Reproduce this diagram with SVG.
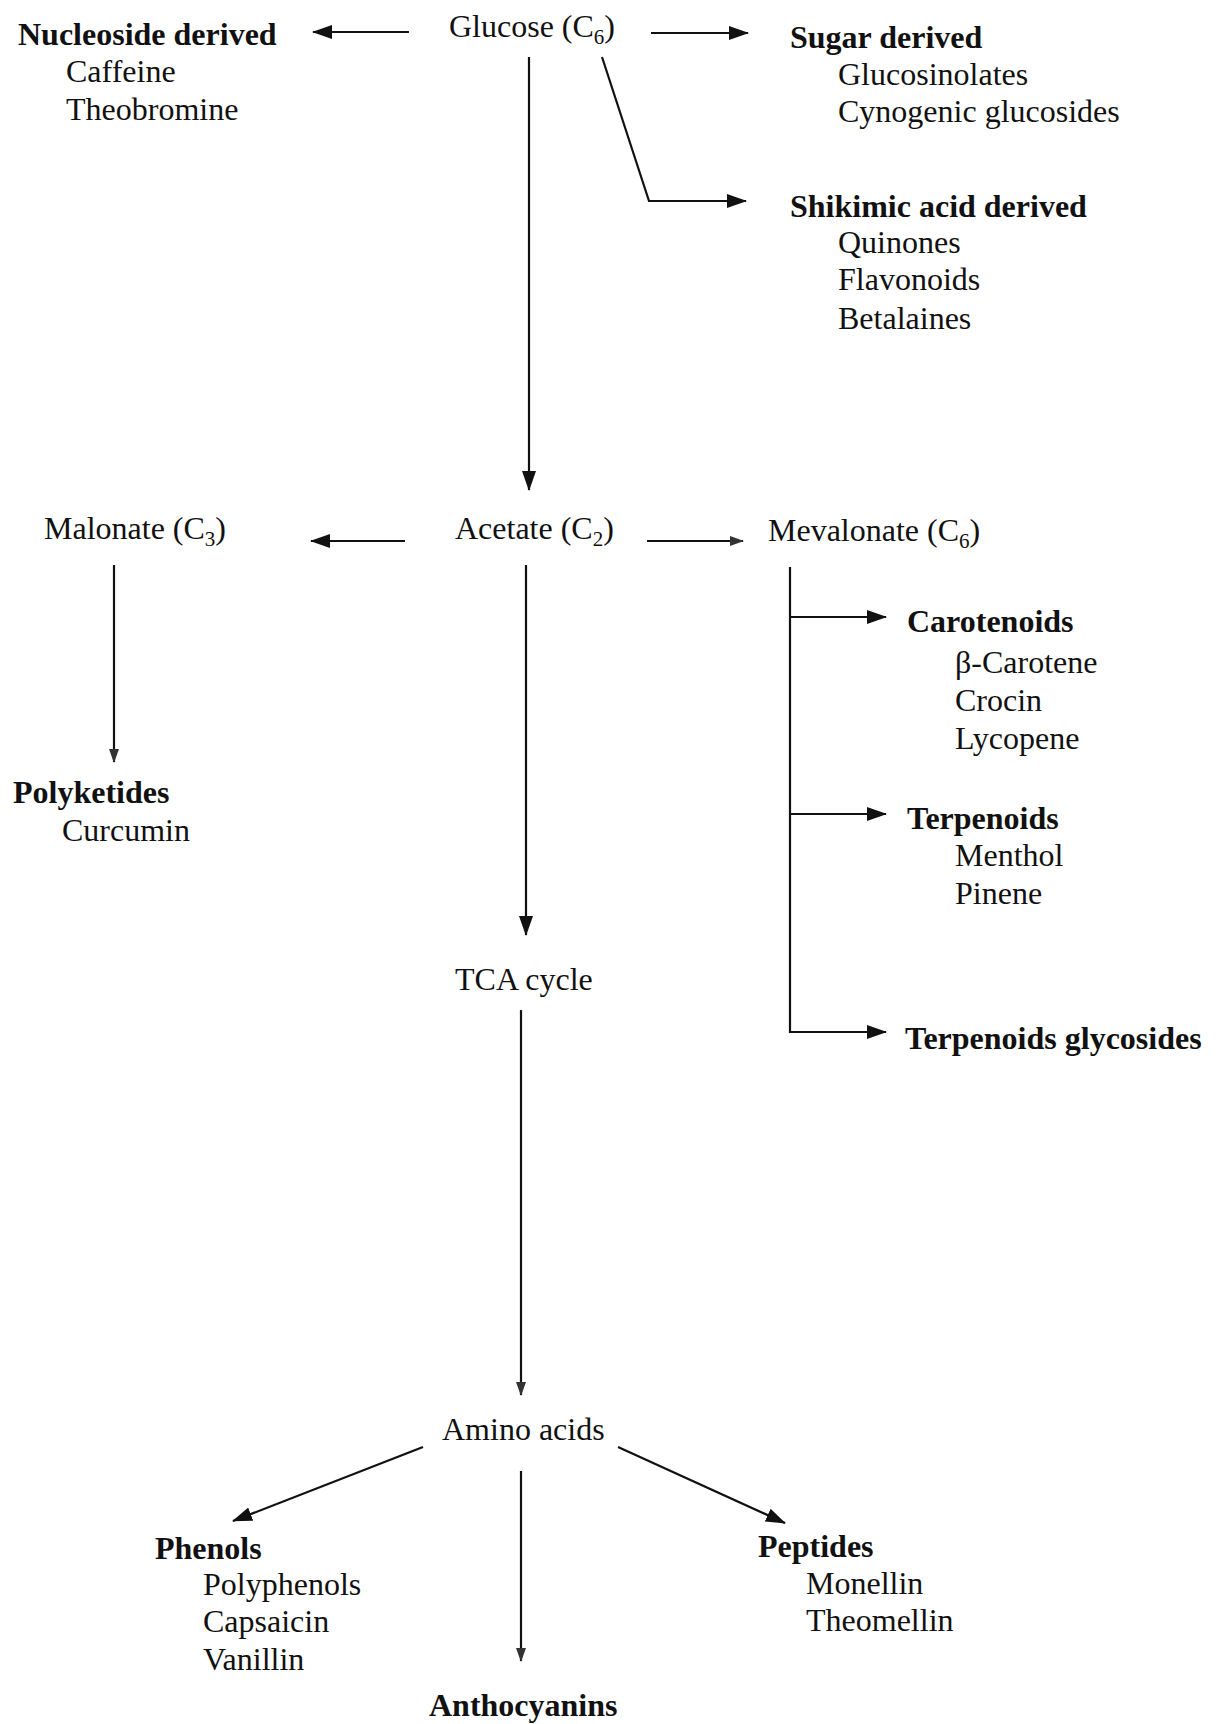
<svg xmlns="http://www.w3.org/2000/svg" width="1224" height="1724" viewBox="0 0 1224 1724">
<style>
text{font-family:"Liberation Serif","Times New Roman",serif;font-size:32px;fill:#111}
.b{font-weight:bold}
.s{font-size:21px}
.c{stroke:#111;stroke-width:2.2;fill:none}
</style>
<defs>
<marker id="ah" viewBox="0 0 20 14" refX="19" refY="7" markerWidth="20" markerHeight="14" markerUnits="userSpaceOnUse" orient="auto">
<path d="M0,0 L20,7 L0,14 Z" fill="#111"/>
</marker>
<marker id="ahs" viewBox="0 0 14 10" refX="13" refY="5" markerWidth="14" markerHeight="10" markerUnits="userSpaceOnUse" orient="auto">
<path d="M0,0 L14,5 L0,10 Z" fill="#333"/>
</marker>
</defs>
<rect width="1224" height="1724" fill="#fff"/>
<g id="connectors">
<line class="c" x1="409" y1="32" x2="313" y2="32" marker-end="url(#ah)"/>
<line class="c" x1="651" y1="33" x2="748" y2="33" marker-end="url(#ah)"/>
<line class="c" x1="529" y1="57" x2="529" y2="490" marker-end="url(#ah)"/>
<polyline class="c" points="602,57 649,201 746,201" marker-end="url(#ah)"/>
<line class="c" x1="405" y1="541" x2="311" y2="541" marker-end="url(#ah)"/>
<line class="c" x1="647" y1="541" x2="743" y2="541" marker-end="url(#ahs)"/>
<line class="c" x1="114" y1="565" x2="114" y2="762" marker-end="url(#ahs)"/>
<line class="c" x1="526" y1="565" x2="526" y2="935" marker-end="url(#ah)"/>
<polyline class="c" points="790,567 790,1032 886,1032" marker-end="url(#ah)"/>
<line class="c" x1="790" y1="617" x2="886" y2="617" marker-end="url(#ah)"/>
<line class="c" x1="790" y1="814" x2="886" y2="814" marker-end="url(#ah)"/>
<line class="c" x1="521" y1="1010" x2="521" y2="1395" marker-end="url(#ahs)"/>
<line class="c" x1="423" y1="1447" x2="233" y2="1521" marker-end="url(#ah)"/>
<line class="c" x1="618" y1="1447" x2="785" y2="1523" marker-end="url(#ah)"/>
<line class="c" x1="521" y1="1471" x2="521" y2="1661" marker-end="url(#ahs)"/>
</g>
<g id="glucose"><text x="449" y="37">Glucose (C<tspan class="s" dy="7">6</tspan><tspan dy="-7">)</tspan></text></g>
<g id="nucleoside">
<text class="b" x="18" y="45">Nucleoside derived</text>
<text x="66" y="82">Caffeine</text>
<text x="66" y="120">Theobromine</text>
</g>
<g id="sugar">
<text class="b" x="790" y="48">Sugar derived</text>
<text x="838" y="85">Glucosinolates</text>
<text x="838" y="122">Cynogenic glucosides</text>
</g>
<g id="shikimic">
<text class="b" x="790" y="217">Shikimic acid derived</text>
<text x="838" y="253">Quinones</text>
<text x="838" y="290">Flavonoids</text>
<text x="838" y="329">Betalaines</text>
</g>
<g id="malonate"><text x="44" y="539">Malonate (C<tspan class="s" dy="7">3</tspan><tspan dy="-7">)</tspan></text></g>
<g id="acetate"><text x="455" y="539">Acetate (C<tspan class="s" dy="7">2</tspan><tspan dy="-7">)</tspan></text></g>
<g id="mevalonate"><text x="768" y="541">Mevalonate (C<tspan class="s" dy="7">6</tspan><tspan dy="-7">)</tspan></text></g>
<g id="polyketides">
<text class="b" x="13" y="803">Polyketides</text>
<text x="62" y="841">Curcumin</text>
</g>
<g id="carotenoids">
<text class="b" x="907" y="632">Carotenoids</text>
<text x="955" y="673">β-Carotene</text>
<text x="955" y="711">Crocin</text>
<text x="955" y="749">Lycopene</text>
</g>
<g id="terpenoids">
<text class="b" x="907" y="829">Terpenoids</text>
<text x="955" y="866">Menthol</text>
<text x="955" y="904">Pinene</text>
</g>
<g id="terpglyc"><text class="b" x="905" y="1049">Terpenoids glycosides</text></g>
<g id="tca"><text x="455" y="990">TCA cycle</text></g>
<g id="amino"><text x="442" y="1440">Amino acids</text></g>
<g id="phenols">
<text class="b" x="155" y="1559">Phenols</text>
<text x="203" y="1595">Polyphenols</text>
<text x="203" y="1632">Capsaicin</text>
<text x="203" y="1670">Vanillin</text>
</g>
<g id="peptides">
<text class="b" x="758" y="1557">Peptides</text>
<text x="806" y="1594">Monellin</text>
<text x="806" y="1631">Theomellin</text>
</g>
<g id="anthocyanins"><text class="b" x="429" y="1716">Anthocyanins</text></g>
</svg>
